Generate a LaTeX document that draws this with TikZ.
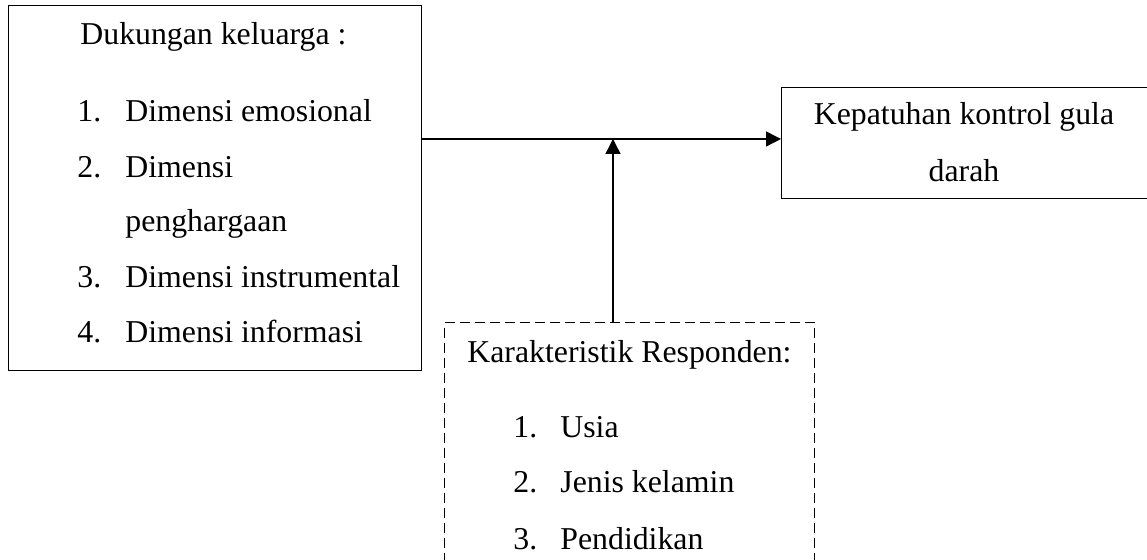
\documentclass[tikz,border=0pt]{standalone}
\usepackage{fontspec}
\setmainfont{Liberation Serif}
\usetikzlibrary{arrows.meta}
\begin{document}
\begin{tikzpicture}[x=0.5pt,y=-0.5pt,
  box/.style={draw,line width=0.7pt,inner sep=0pt,anchor=north west},
  dbox/.style={draw,line width=0.7pt,inner sep=0pt,anchor=north west,dash pattern=on 5pt off 2.5pt},
  txt/.style={inner sep=0pt,anchor=base west,font=\fontsize{15.9}{18}\selectfont},
  ctxt/.style={inner sep=0pt,anchor=base,font=\fontsize{15.9}{18}\selectfont},
  conn/.style={line width=0.7pt,-{Triangle[length=7.5pt,width=7.5pt]}}]
\useasboundingbox (0,0) rectangle (1147,560);
\clip (0,0) rectangle (1147,560);
% boxes
\node[box,minimum width=206.5pt,minimum height=182.5pt] (lb) at (8,5) {};
\node[box,minimum width=200pt,minimum height=55.5pt] (rb) at (781,87) {};
\node[dbox,minimum width=185pt,minimum height=160pt] (db) at (444,322) {};
% left box text
\node[txt] (l0) at (80,45) {Dukungan keluarga :};
\node[txt] (n1) at (77,122) {1.};
\node[txt] (t1) at (125,122) {Dimensi emosional};
\node[txt] (n2) at (77,178) {2.};
\node[txt] (t2) at (125,178) {Dimensi};
\node[txt] (t2b) at (125,232) {penghargaan};
\node[txt] (n3) at (77,288) {3.};
\node[txt] (t3) at (125,288) {Dimensi instrumental};
\node[txt] (n4) at (77,343) {4.};
\node[txt] (t4) at (125,343) {Dimensi informasi};
% right box text
\node[ctxt] (r1) at (964,125) {Kepatuhan kontrol gula};
\node[ctxt] (r2) at (964,182) {darah};
% dashed box text
\node[txt] (d0) at (467,363) {Karakteristik Responden:};
\node[txt] (dn1) at (513,438) {1.};
\node[txt] (dt1) at (560,438) {Usia};
\node[txt] (dn2) at (513,493) {2.};
\node[txt] (dt2) at (560,493) {Jenis kelamin};
\node[txt] (dn3) at (513,550) {3.};
\node[txt] (dt3) at (560,550) {Pendidikan};
% connectors
\coordinate (hy) at (0,139);
\coordinate (vx) at (613,0);
\draw[conn] (lb.east |- hy) -- (rb.west |- hy);
\draw[conn] (db.north -| vx) -- (vx |- hy);
\end{tikzpicture}
\end{document}
